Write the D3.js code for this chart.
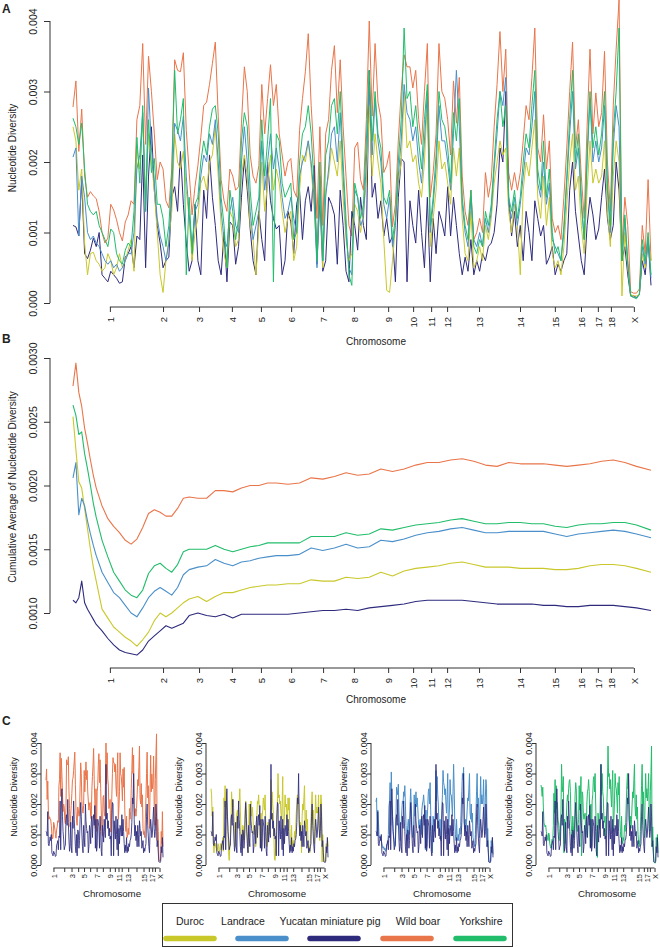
<!DOCTYPE html>
<html><head><meta charset="utf-8">
<script src="https://cdn.jsdelivr.net/npm/d3@7"></script>
<style>body{margin:0;background:#fff}svg{display:block}</style>
</head><body><svg id="c" width="660" height="948"></svg>
<script>
// ---------------- DATA ----------------
const breeds = ["Duroc", "Landrace", "Yucatan miniature pig", "Wild boar", "Yorkshire"];
const breedColors = ["#c9c82b", "#4a8fc9", "#2e2b7d", "#e9754a", "#21bd6b"];
const chromLabels = ["1","2","3","4","5","6","7","8","9","10","11","12","13","14","15","16","17","18","X"];
// chromosome label positions (window index along the genome)
const chromTicks = [12.7,31.0,43.4,54.7,64.7,75.1,86.1,96.7,108.5,117.1,123.3,128.8,139.8,153.9,165.9,174.9,180.7,185.2,193.1];
const yTicksA = [0, 0.001, 0.002, 0.003, 0.004];
const yTicksB = [0.001, 0.0015, 0.002, 0.0025, 0.003];

// per-window nucleotide diversity, in units of 1e-5 (200 windows)
const duroc = [250,230,160,190,85,40,70,72,60,55, 45,50,70,60,40,50,70,50,60,75, 90,45,220,190,260,150,240,200,160,100,
 40,15,60,90,130,240,200,190,215,160, 120,60,100,120,170,180,160,200,210,250, 180,110,70,50,130,120,80,90,180,210,
 180,110,90,40,110,200,130,170,210,160, 190,170,130,100,120,130,60,80,160,210, 200,230,190,140,60,170,50,160,180,220,
 200,180,230,150,90,60,70,140,130,100, 130,170,280,180,240,200,170,90,18,15, 60,110,170,200,300,220,230,200,210,170,
 150,200,290,80,120,160,230,190,200,170, 140,220,180,220,120,70,60,130,50,60, 80,60,110,90,120,170,200,230,210,220,
 130,100,140,110,40,160,200,180,220,260, 150,120,180,110,150,70,50,60,40,80, 140,200,240,160,180,110,70,160,230,170,
 190,170,180,230,130,80,180,230,200,10, 100,50,12,10,10,12,70,50,90,60];
const landrace = [207,220,95,180,150,100,90,95,85,80, 70,60,55,60,50,55,45,50,60,70, 70,100,190,210,270,130,305,220,170,120,
 95,80,60,85,160,255,245,230,265,180, 125,80,130,140,180,210,200,240,225,260, 200,130,90,80,130,150,110,100,200,250,
 200,130,90,110,130,230,160,200,240,190, 220,190,150,120,130,150,120,100,180,200, 210,230,200,150,50,180,60,150,190,240,
 250,200,270,180,100,50,40,160,150,110, 120,200,310,210,290,230,200,140,120,150, 80,110,180,230,310,270,260,230,250,200,
 170,230,300,100,140,190,280,230,230,200, 160,240,330,250,140,100,80,150,90,80, 100,80,120,100,130,190,240,300,280,320,
 140,120,150,110,140,180,220,210,250,300, 170,150,200,140,170,90,80,70,60,100, 170,240,300,190,220,140,90,200,290,200,
 230,200,220,280,160,100,220,280,250,60, 120,55,10,8,8,12,80,55,90,35];
const yucatan = [110,108,95,175,70,63,75,92,80,100, 40,35,30,45,40,35,28,30,65,70, 80,50,95,90,210,50,180,250,160,110,
 85,50,60,65,150,165,130,215,140,85, 45,60,140,60,40,160,120,210,150,110, 60,40,100,30,115,110,55,80,150,205,
 160,105,60,40,130,90,60,200,145,120, 105,110,40,60,130,115,70,140,160,90, 145,165,130,195,55,150,45,60,150,140,
 125,55,160,110,45,30,130,110,75,150, 110,90,330,150,170,120,145,95,120,85, 95,30,150,205,200,30,145,110,85,160,
 100,50,150,30,120,70,130,115,95,165, 95,150,110,70,40,65,45,90,40,60, 45,70,60,80,85,100,140,220,200,300,
 150,95,130,80,110,60,130,100,60,145, 120,95,110,55,65,80,40,55,45,60, 70,160,200,130,95,60,40,110,150,125,
 90,105,150,190,120,90,110,200,160,60, 80,40,10,10,8,12,60,40,90,25];
const wildBoar = [278,315,215,275,180,150,158,152,148,130, 100,85,92,140,132,118,100,88,115,125, 145,140,260,280,368,225,350,300,240,175,
 200,190,145,135,190,345,330,328,355,245, 185,125,165,195,235,280,285,310,340,370, 265,175,145,130,190,180,160,165,255,335,
 300,210,180,170,195,310,240,290,338,280, 310,240,210,180,200,205,160,150,245,290, 328,382,280,210,120,250,110,240,260,330,
 365,270,345,250,180,110,95,220,228,175, 160,260,400,265,368,285,262,185,195,215, 108,140,230,300,352,335,335,305,330,260,
 225,300,368,150,185,240,368,300,290,260, 210,315,255,320,180,130,110,160,90,100, 120,100,185,150,175,250,310,385,300,360,
 185,160,185,160,185,230,280,260,320,390, 220,200,267,190,230,120,100,110,90,150, 220,300,370,220,260,180,120,250,360,240,
 298,250,270,357,200,130,280,360,430,80, 150,110,16,14,14,20,110,70,175,60];
const yorkshire = [262,250,225,255,190,140,130,125,130,110, 100,90,80,105,100,70,60,55,75,85, 80,130,235,170,280,130,260,185,205,140,
 140,120,80,110,180,330,240,260,290,40, 150,70,140,150,200,230,210,250,275,280, 240,150,110,50,160,130,90,120,230,270,
 250,160,110,130,150,260,180,230,290,30, 240,230,170,150,160,170,90,100,200,240, 250,280,240,170,60,200,60,210,230,280,
 290,240,300,200,120,40,25,170,150,120, 140,230,330,230,300,240,220,150,140,160, 90,120,200,260,390,290,300,250,280,230,
 190,260,310,110,150,210,300,260,250,220, 170,270,230,290,150,110,90,160,80,70, 90,80,130,110,140,200,260,300,250,280,
 150,130,160,120,150,200,240,220,280,330, 190,160,230,150,190,100,70,80,60,110, 180,260,330,200,240,150,90,210,300,220,
 250,210,240,300,170,110,240,300,390,60, 125,60,10,8,6,12,90,60,100,40];

// cumulative average of nucleotide diversity (units of 1e-5) at selected window indices
const cumPos = [0,1,2,3,4,5,6,7,8,10,12,14,16,18,20,22,24,26,28,30,32,34,36,38,40,43,46,49,52,55,58,61,64,67,70,74,78,82,86,90,
 94,98,102,106,110,114,118,122,126,130,134,138,142,146,150,154,158,162,166,170,174,178,182,186,190,194,199];
const cumDuroc = [254,228,203,198,182,166,150,136,125,103,96,89,85,81,78,74,79,85,94,100,97,100,104,108,111,113,109,113,116,116,118,120,121,122,122,123,123,126,125,125,
 128,127,128,132,129,133,135,136,137,139,140,138,136,136,136,135,135,135,134,134,135,137,138,138,137,135,132];
const cumLandrace = [206,218,177,190,184,172,162,153,145,132,124,116,112,106,100,97,104,112,117,120,117,114,120,130,134,136,137,142,139,137,140,141,143,144,145,145,146,151,149,151,
 154,151,152,157,156,158,161,163,164,166,167,165,163,163,164,164,164,164,162,160,162,163,164,165,164,162,159];
const cumYucatan = [110,108,112,125,108,103,99,95,91,86,80,75,71,69,68,67,71,78,82,86,90,88,90,92,98,100,98,97,99,96,99,99,99,99,99,99,100,101,102,102,
 103,102,104,105,106,107,109,110,110,110,110,109,108,107,107,107,107,106,106,105,105,106,106,106,105,104,102];
const cumWildBoar = [278,296,273,262,245,233,220,208,198,184,174,168,163,157,154,158,167,178,181,179,176,176,182,190,191,190,190,196,196,195,198,200,200,202,202,201,202,206,205,207,
 210,208,209,213,211,213,216,218,218,220,221,219,216,215,218,217,217,217,216,215,216,217,219,220,218,215,212];
const cumYorkshire = [263,255,240,242,225,213,200,186,175,157,144,132,125,118,114,112,118,131,137,139,135,132,138,148,150,150,150,153,150,148,150,152,153,155,155,155,155,160,160,160,
 163,161,162,166,165,167,169,170,171,173,174,172,170,170,171,171,170,170,168,167,169,170,170,171,171,169,165];

// ---------------- DRAWING ----------------
const FONT = '"Liberation Sans", Arial, Helvetica, sans-serif';
const AX = "#333", TXT = "#222";
const E5 = v => v * 1e-5;
const svg = d3.select("#c").attr("font-family", FONT);

const series = {
  "Duroc": duroc, "Landrace": landrace, "Yucatan miniature pig": yucatan, "Wild boar": wildBoar, "Yorkshire": yorkshire
};
const cumSeries = {
  "Duroc": cumDuroc, "Landrace": cumLandrace, "Yucatan miniature pig": cumYucatan, "Wild boar": cumWildBoar, "Yorkshire": cumYorkshire
};
const colorOf = b => breedColors[breeds.indexOf(b)];
const drawOrder = ["Wild boar", "Yucatan miniature pig", "Duroc", "Landrace", "Yorkshire"];

function yAxis(x0, yScale, ticks, fmt, fs, off, tl) {
  const g = svg.append("g").attr("transform", `translate(${x0},0)`)
    .call(d3.axisLeft(yScale).tickValues(ticks).tickFormat(fmt).tickSize(tl).tickSizeOuter(0));
  g.attr("font-family", FONT);
  g.select(".domain").remove();
  g.append("line").attr("y1", yScale(ticks[0])).attr("y2", yScale(ticks[ticks.length - 1])).attr("stroke", AX);
  g.selectAll(".tick line").attr("stroke", AX);
  g.selectAll(".tick text").attr("x", 0).attr("y", -off).attr("dy", 0)
    .attr("transform", "rotate(-90)").attr("text-anchor", "middle")
    .style("font-size", fs + "px").attr("fill", TXT);
}
function xAxis(y0, xScale, ticks, labels, fs, tl, gap, every) {
  const g = svg.append("g").attr("transform", `translate(0,${y0})`)
    .call(d3.axisBottom(xScale).tickValues(ticks)
      .tickFormat((d, i) => (i % every === 0 ? labels[i] : "")).tickSize(tl).tickSizeOuter(0));
  g.attr("font-family", FONT);
  g.select(".domain").remove();
  g.append("line").attr("x1", xScale(ticks[0])).attr("x2", xScale(ticks[ticks.length - 1])).attr("stroke", AX);
  g.selectAll(".tick line").attr("stroke", AX);
  g.selectAll(".tick text").attr("x", -gap).attr("y", 0).attr("dy", "0.35em")
    .attr("transform", "rotate(-90)").attr("text-anchor", "end")
    .style("font-size", fs + "px").attr("fill", TXT);
}
function label(x, y, t, fs, opts = {}) {
  const el = svg.append("text").attr("x", x).attr("y", y).text(t).attr("fill", TXT)
    .style("font-size", fs + "px").attr("text-anchor", opts.anchor || "middle");
  if (opts.rot) el.attr("transform", `rotate(-90,${x},${y})`);
  if (opts.bold) el.attr("font-weight", "bold");
  return el;
}

// ---- Panel A ----
const xA = d3.scaleLinear().domain([0, 199]).range([73, 651]);
const yA = d3.scaleLinear().domain([0, 0.004]).range([303, 21]);
const lineA = d3.line().x((d, i) => xA(i)).y(d => yA(E5(d)));
drawOrder.forEach(b => {
  svg.append("path").datum(series[b]).attr("d", lineA).attr("fill", "none")
    .attr("stroke", colorOf(b)).attr("stroke-width", 1).attr("stroke-linejoin", "round");
});
yAxis(50, yA, yTicksA, d3.format(".3f"), 10.5, 13, 6);
xAxis(307, xA, chromTicks, chromLabels, 9.5, 5, 10, 1);
label(16, 148, "Nucleotide Diversity", 10, { rot: true });
label(376, 345, "Chromosome", 10);
label(2, 13, "A", 12, { anchor: "start", bold: true });

// ---- Panel B ----
const yB = d3.scaleLinear().domain([0.001, 0.003]).range([613, 358]);
const lineB = d3.line().x((d, i) => xA(cumPos[i])).y(d => yB(E5(d)));
drawOrder.forEach(b => {
  svg.append("path").datum(cumSeries[b]).attr("d", lineB).attr("fill", "none")
    .attr("stroke", colorOf(b)).attr("stroke-width", 1.1).attr("stroke-linejoin", "round");
});
yAxis(50, yB, yTicksB, d3.format(".4f"), 10.5, 13, 6);
xAxis(668, xA, chromTicks, chromLabels, 9.5, 5, 10, 1);
label(16, 487, "Cumulative Average of Nucleotide Diversity", 10, { rot: true });
label(376, 703, "Chromosome", 10);
label(2, 343, "B", 12, { anchor: "start", bold: true });

// ---- Panel C ----
label(2, 725, "C", 12, { anchor: "start", bold: true });
["Wild boar", "Duroc", "Landrace", "Yorkshire"].forEach((b, k) => {
  const ox = k * 165;
  const xC = d3.scaleLinear().domain([0, 199]).range([ox + 46, ox + 163]);
  const yC = d3.scaleLinear().domain([0, 0.004]).range([865, 743]);
  const lineC = d3.line().x((d, i) => xC(i)).y(d => yC(E5(d)));
  svg.append("path").datum(series[b]).attr("d", lineC).attr("fill", "none")
    .attr("stroke", colorOf(b)).attr("stroke-width", 1).attr("stroke-linejoin", "round");
  svg.append("path").datum(yucatan).attr("d", lineC).attr("fill", "none")
    .attr("stroke", colorOf("Yucatan miniature pig")).attr("stroke-width", 1).attr("opacity", 0.85)
    .attr("stroke-linejoin", "round");
  yAxis(ox + 41, yC, yTicksA, d3.format(".3f"), 9, 4.5, 4);
  xAxis(868, xC, chromTicks, chromLabels, 7.5, 4, 6, 2);
  label(ox + 16.5, 797, "Nucleotide Diversity", 9, { rot: true });
  label(ox + 112, 897, "Chromosome", 9.7);
});

// ---- Legend ----
svg.append("rect").attr("x", 162.5).attr("y", 903.5).attr("width", 350).attr("height", 43)
  .attr("fill", "none").attr("stroke", AX);
const legTextX = [190, 243, 330, 418, 481];
const legSwX = [190, 262, 334, 407, 480];
breeds.forEach((b, i) => {
  label(legTextX[i], 925, b, 10.5);
  svg.append("line").attr("x1", legSwX[i] - 24).attr("x2", legSwX[i] + 24)
    .attr("y1", 938.5).attr("y2", 938.5).attr("stroke", breedColors[i])
    .attr("stroke-width", 5.5).attr("stroke-linecap", "round");
});
</script></body></html>
